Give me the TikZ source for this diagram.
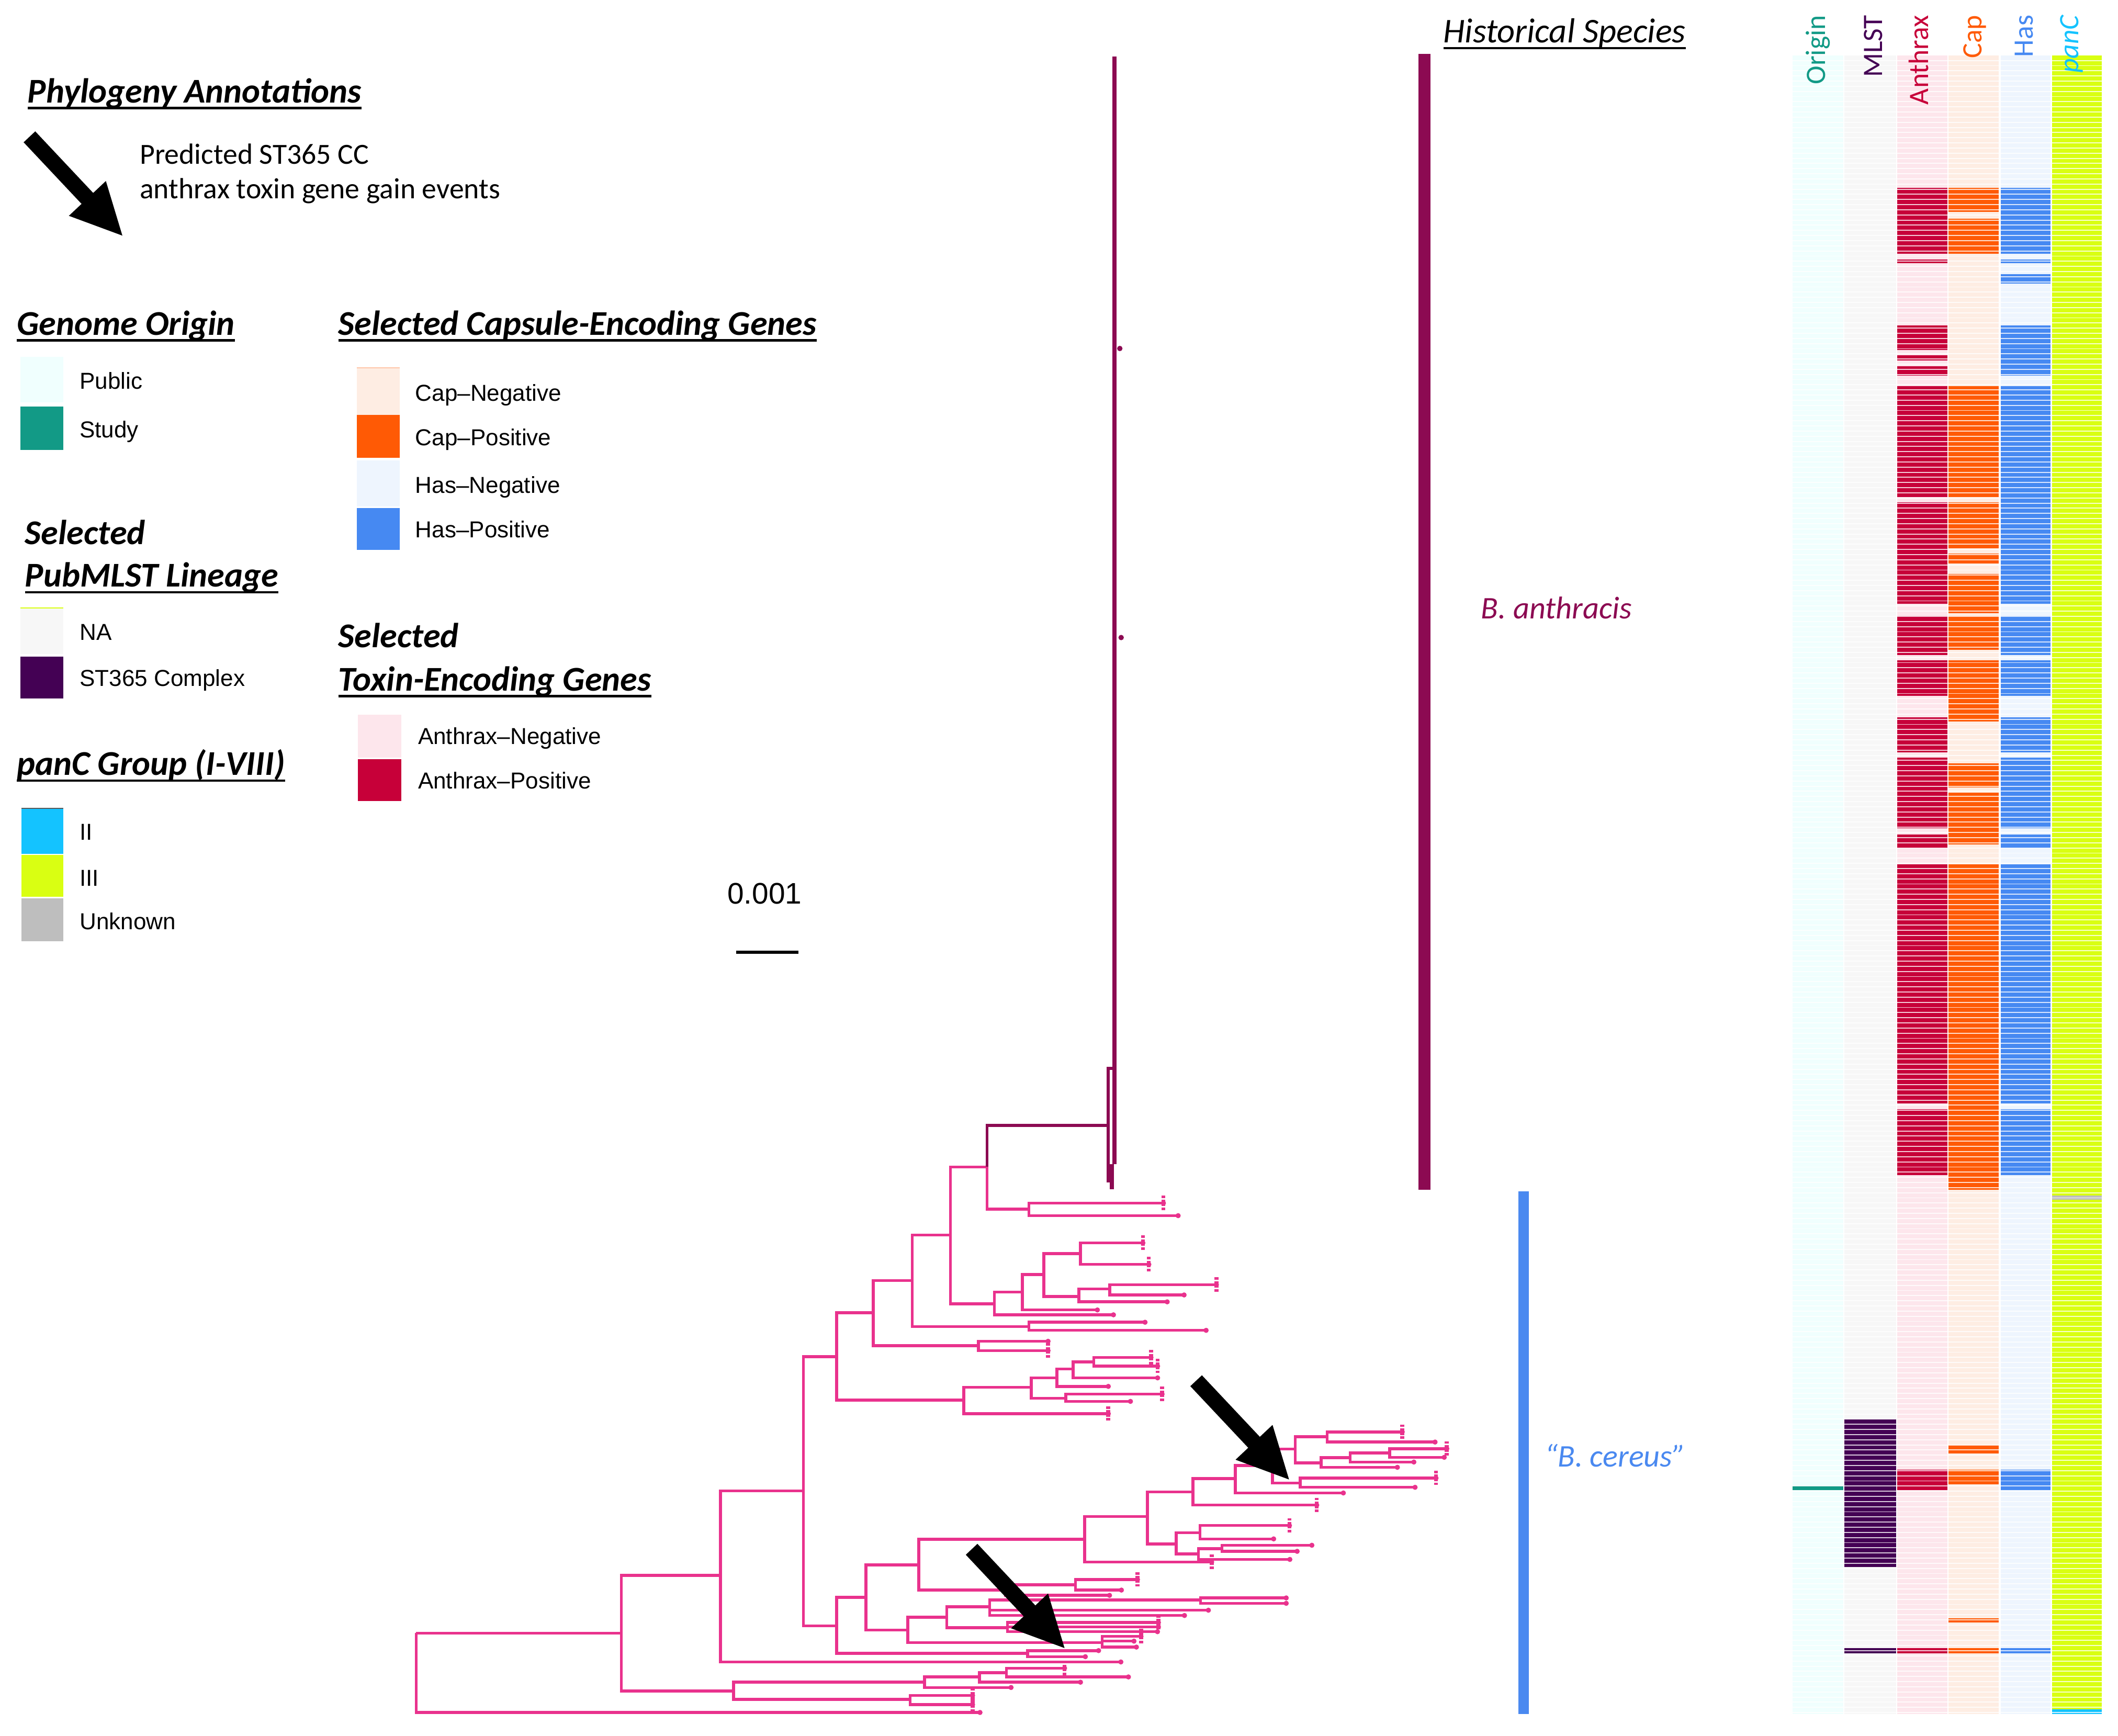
\documentclass[tikz,border=0pt]{standalone}
\usepackage{fontspec}
\setmainfont{Liberation Sans}
\newfontfamily\carlito{Carlito}

\definecolor{cerpink}{RGB}{233,50,141}
\definecolor{antmag}{RGB}{140,10,82}
\definecolor{cerblue}{HTML}{4A89F0}
\definecolor{originpub}{HTML}{F0FFFE}
\definecolor{originstudy}{HTML}{129A86}
\definecolor{mlstna}{HTML}{F7F7F7}
\definecolor{mlstst}{HTML}{440154}
\definecolor{anthneg}{HTML}{FDE6EC}
\definecolor{anthpos}{HTML}{C70039}
\definecolor{capneg}{HTML}{FEEDE3}
\definecolor{cappos}{HTML}{FF5A05}
\definecolor{hasneg}{HTML}{EEF5FE}
\definecolor{haspos}{HTML}{4689F2}
\definecolor{panII}{HTML}{14C3FF}
\definecolor{panIII}{HTML}{D9FF12}
\definecolor{panunk}{HTML}{BEBEBE}

% underlined legend heading
\newcommand\ulhd[1]{\setbox0=\hbox{#1}\rlap{\rule[-3.6pt]{\wd0}{1.3pt}}\box0}

\tikzset{every picture/.style={line width=0.75pt}}
\tikzset{
  hd/.style={font=\carlito\bfseries\itshape\fontsize{19.3}{23}\selectfont, anchor=base west, inner sep=0pt},
  lg/.style={font=\fontsize{12.8}{15}\selectfont, anchor=base west, inner sep=0pt},
  pred/.style={font=\carlito\fontsize{16.2}{19}\selectfont, anchor=base west, inner sep=0pt},
  hist/.style={font=\carlito\itshape\fontsize{19.3}{23}\selectfont, anchor=base west, inner sep=0pt},
  spc/.style={font=\carlito\itshape\fontsize{17.5}{20}\selectfont, anchor=base west, inner sep=0pt},
  scl/.style={font=\fontsize{16.5}{19}\selectfont, anchor=base, inner sep=0pt},
  colhd/.style={font=\carlito\fontsize{15.6}{18}\selectfont, rotate=90, anchor=east, inner sep=0pt},
  cer/.style={draw=cerpink, line width=1.6pt},
  ant/.style={draw=antmag, line width=1.6pt},
  pics/gainarrow/.style={code={
    \fill[black] (0,-5.9) -- (62.6,-5.9) -- (62.6,-18.8) -- (100.4,0) -- (62.6,18.8) -- (62.6,5.9) -- (0,5.9) -- cycle;}}
}

\begin{document}
\begin{tikzpicture}[x=0.75pt,y=0.75pt,yscale=-1,xscale=1]
\useasboundingbox (0,0) rectangle (1568,1285);
\fill[white] (0,0) rectangle (1568,1285);

%Tree nodes: backbone
\coordinate (r) at (308.1,1209.1);
\coordinate (a) at (459.9,1209.1);
\coordinate (b) at (533.3,1166.4);
\coordinate (c) at (543.1,1251.9);
\coordinate (c1) at (684.5,1245.3);
\coordinate (c2) at (673.7,1258.2);
\coordinate (c11) at (725.2,1241.5);
\coordinate (c111) at (745.1,1238.3);
\coordinate (d) at (594.8,1103.8);
\coordinate (e) at (619.3,1203.7);
\coordinate (f) at (619.3,1004.4);
\coordinate (g) at (760.7,1224.1);
\coordinate (h) at (641.0,1182.6);
\coordinate (i) at (672.0,1206.7);
\coordinate (j) at (680.2,1158.5);
\coordinate (k) at (816.0,1216.0);
\coordinate (l) at (700.9,1197.2);
\coordinate (m) at (745.9,1205.1);
\coordinate (n) at (732.6,1189.5);
\coordinate (o) at (888.7,1184.5);
\coordinate (p) at (803.0,1139.5);
\coordinate (q) at (796.2,1173.3);
\coordinate (z) at (744.4,1177.2);
\coordinate (s) at (849.5,1122.7);
\coordinate (t) at (870.8,1143.0);
\coordinate (t1) at (888.3,1134.8);
\coordinate (t2) at (887.2,1150.5);
\coordinate (t21) at (904.7,1146.5);
\coordinate (u) at (883.1,1104.5);
\coordinate (v) at (914.5,1094.7);
\coordinate (vx) at (942.1,1085.0);
\coordinate (w) at (958.8,1072.8);
\coordinate (w1) at (982.5,1063.7);
\coordinate (w2) at (978.0,1083.0);
\coordinate (w21) at (999.6,1079.2);
\coordinate (w211) at (1028.7,1075.6);
\coordinate (vy) at (962.6,1097.9);
%Tree nodes: upper clades
\coordinate (fe) at (646.5,971.9);
\coordinate (fd) at (713.4,1036.6);
\coordinate (fc) at (763.4,1027.0);
\coordinate (fb) at (789.0,1035.1);
\coordinate (fa) at (782.5,1020.1);
\coordinate (faa) at (794.4,1013.5);
\coordinate (fab) at (809.7,1008.3);
\coordinate (ff) at (724.3,996.3);
\coordinate (fh) at (675.3,948.1);
\coordinate (fg) at (761.8,982.2);
\coordinate (fi) at (703.6,914.4);
\coordinate (fj) at (730.8,863.9);
\coordinate (fk) at (761.8,895.2);
\coordinate (fm) at (736.2,965.3);
\coordinate (fn) at (756.9,956.6);
\coordinate (fo) at (772.7,943.6);
\coordinate (fp) at (799.9,928.0);
\coordinate (fq) at (798.8,959.9);
\coordinate (fqa) at (821.6,954.2);
\coordinate (anth) at (820.5,833.2);
\coordinate (antup) at (824.5,791.0);
\coordinate (antlo) at (822.5,874.5);

%Tree branches
\foreach \pa/\ch in {r/a,a/b,a/c,c/c1,c/c2,c1/c11,c11/c111,b/d,d/e,d/f,e/g,e/h,h/i,h/j,i/k,i/l,l/n,l/m,n/o,
  j/p,j/z,z/q,p/s,s/u,s/t,t/t1,t/t2,t2/t21,u/v,v/vx,vx/w,vx/vy,w/w1,w/w2,w2/w21,w21/w211,
  f/fe,f/fd,fd/fc,fc/fb,fc/fa,fa/faa,faa/fab,fe/ff,fe/fh,fh/fg,fh/fi,fi/fj,fi/fm,fj/fk,fm/fn,fn/fo,fo/fp,fo/fq,fq/fqa}
  \draw[cer] (\pa) |- (\ch);

%Tree tips
\foreach \pa/\lx/\ly/\mt [count=\n] in {
  r/725.5/1267.8/0, c1/748.5/1249.3/0, c11/799.9/1245.4/0, c111/788.1/1235.0/1, c111/835.4/1241.5/0,
  c2/720.0/1255.2/1, c2/720.0/1262.0/1, b/829.8/1230.4/0, g/813.3/1222.0/0, g/803.5/1226.5/0,
  k/844.7/1211.5/1, k/839.5/1215.0/0, k/841.3/1219.4/0, n/894.6/1192.1/0, n/876.9/1196.0/0,
  o/952.2/1183.0/0, o/952.2/1187.0/0, m/857.6/1201.2/1, m/857.6/1204.5/0, m/856.9/1208.0/0,
  z/821.4/1181.1/0, q/842.1/1169.4/1, q/830.2/1177.2/0, p/897.0/1156.4/1,
  t1/954.6/1129.4/1, t1/942.9/1139.3/0, t21/971.2/1144.0/0, t21/960.3/1148.5/0, t2/954.9/1154.5/0,
  u/974.8/1114.3/1, v/994.5/1105.3/0, w1/1038.1/1060.1/1, w1/1062.4/1067.6/0, w2/1034.5/1086.3/0,
  w21/1046.7/1082.4/0, w211/1071.1/1072.5/1, w211/1069.2/1078.9/0, vy/1063.1/1094.3/1, vy/1047.6/1101.1/0,
  fd/820.5/1046.6/1, fb/860.3/1032.1/1, fb/836.9/1037.5/0, fa/820.5/1026.4/0, faa/857.0/1020.1/0,
  fab/852.1/1005.0/1, fab/857.0/1011.4/1, ff/775.9/993.0/0, ff/775.9/999.9/1,
  fg/847.7/978.9/0, fg/892.9/984.9/0, fk/861.3/890.7/1, fk/872.2/900.0/0,
  fm/824.3/973.4/0, fn/812.4/969.8/0, fp/846.1/920.2/1, fp/850.5/936.1/1,
  fq/864.1/963.8/0, fqa/900.5/951.2/1, fqa/876.6/958.7/0}
{
  \coordinate (tip\n) at (\lx,\ly);
  \draw[cer] (\pa) |- (tip\n);
  \fill[cerpink] (tip\n) circle (1.9);
  \ifnum\mt=1 \draw[cer, line width=2.2pt, dash pattern=on 1.4pt off 0.8pt] (tip\n) ++(0,-5.5) -- ++(0,11);\fi
}

%B. anthracis clade
\draw[ant] (fj) |- (anth);
\draw[ant] (anth) |- (antup);
\draw[ant] (anth) |- (antlo);
\draw[ant, line width=2.3pt] (825.2,42) -- (825.2,862);
\draw[ant, line width=2.3pt] (823.0,862) -- (823.0,880.5);
\fill[antmag] (829,258) circle (2);
\fill[antmag] (830,472) circle (2);

%Gain event arrows
\pic[rotate=-46.75] (arrhigh) at (885.5,1022.2) {gainarrow};
\pic[rotate=-46.75] (arrlow) at (719.3,1147.0) {gainarrow};

%Historical species bars
\fill[antmag] (1050,40) rectangle (1059,881);
\fill[cerblue] (1124,882) rectangle (1132,1269);
% Text Node
\node[hist] (hdhist) at (1068,31.6) {\ulhd{Historical Species}};
% Text Node
\node[spc, text=antmag] (txtanth) at (1096,458) {B. anthracis};
% Text Node
\node[spc, text=cerblue] (txtcer) at (1143,1086) {“B. cereus”};

%Heat map columns
\fill[originpub] (1327,41) rectangle (1365,1269);
\fill[mlstna] (1365,41) rectangle (1404,1269);
\fill[anthneg] (1404,41) rectangle (1442,1269);
\fill[capneg] (1442,41) rectangle (1480,1269);
\fill[hasneg] (1481,41) rectangle (1518,1269);
\fill[panIII] (1519,41) rectangle (1556,1269);
\foreach \ya/\yb in {139/188,192/195,241/259,263/267,271/278,286/368,372/447,456/485,489/515,531/557,561/613,618/628,640/817,821/870,1088/1103,1220/1224}
  \fill[anthpos] (1404,\ya) rectangle (1442,\yb);
\foreach \ya/\yb in {139/157,162/188,286/368,372/406,410/417,425/454,456/481,489/534,565/583,587/625,640/881,1070/1076,1088/1099,1198/1201,1220/1224}
  \fill[cappos] (1442,\ya) rectangle (1480,\yb);
\foreach \ya/\yb in {139/188,192/195,203/210,241/278,286/447,456/485,489/515,531/557,561/613,618/628,640/817,821/870,1088/1103,1220/1224}
  \fill[haspos] (1481,\ya) rectangle (1518,\yb);
\foreach \ya/\yb in {1051/1160,1220/1224}
  \fill[mlstst] (1365,\ya) rectangle (1404,\yb);
\fill[originstudy] (1327,1100) rectangle (1365,1103);
\fill[panunk] (1519,885) rectangle (1556,888);
\fill[panII] (1519,1265.5) rectangle (1556,1269);
% row separators
\foreach \k in {1,...,322}
  \draw[white, line width=0.55pt, opacity=0.8] (1327,41+3.81*\k) -- (1556,41+3.81*\k);
\foreach \cx/\cw in {1365/0.6,1404/0.6,1442/0.6,1480.5/1.2,1518.5/0.8}
  \draw[white, line width=\cw pt] (\cx,41) -- (\cx,1269);

% Text Node
\node[colhd, text=originstudy] (hdorig) at (1345.8,10.7) {Origin};
\node[colhd, text=mlstst] (hdmlstcol) at (1386.8,10.7) {MLST};
\node[colhd, text=anthpos] (hdanthcol) at (1420.5,10.7) {Anthrax};
\node[colhd, text=cappos] (hdcapcol) at (1461.9,10.7) {Cap};
\node[colhd, text=haspos] (hdhascol) at (1498.5,10.7) {Has};
\node[colhd, text=panII] (hdpanccol) at (1533.5,10.7) {\itshape panC};

%Legend: phylogeny annotations
\node[hd] (hdphylo) at (20,76) {\ulhd{Phylogeny Annotations}};
\pic[rotate=-46.75] (arrlegend) at (21.8,101.3) {gainarrow};
\node[pred] (txtpred) at (103,121.3) {Predicted ST365 CC};
\node[pred] (txtgain) at (103,147) {anthrax toxin gene gain events};

%Legend: genome origin
\node[hd] (hdorigin) at (12,248) {\ulhd{Genome Origin}};
\fill[originpub] (15,264) rectangle (47,298);
\node[lg] (lgpub) at (58.5,288) {Public};
\fill[originstudy] (15,301) rectangle (47,333);
\node[lg] (lgstudy) at (58.5,324) {Study};

%Legend: PubMLST lineage
\node[hd] (hdsela) at (18,403) {Selected};
\node[hd] (hdmlst) at (18,434.5) {\ulhd{PubMLST Lineage}};
\fill[mlstna] (15,450) rectangle (47,484);
\draw[panIII, line width=0.6pt] (15,450) -- (47,450);
\node[lg] (lgna) at (58.5,474) {NA};
\fill[mlstst] (15,486) rectangle (47,517);
\node[lg] (lgst) at (58.5,508) {ST365 Complex};

%Legend: panC group
\node[hd] (hdpanc) at (12,574) {\ulhd{panC Group (I-VIII)}};
\fill[panII] (16,598) rectangle (47,632);
\draw[black!65, line width=0.6pt] (16,598.4) -- (47,598.4);
\node[lg] (lgii) at (58.5,622) {II};
\fill[panIII] (16,633) rectangle (47,664);
\node[lg] (lgiii) at (58.5,656) {III};
\fill[panunk] (16,665) rectangle (47,697);
\node[lg] (lgunk) at (58.5,688) {Unknown};

%Legend: capsule genes
\node[hd] (hdcap) at (250,248) {\ulhd{Selected Capsule-Encoding Genes}};
\fill[capneg] (264,272) rectangle (296,307);
\draw[cappos!35, line width=0.6pt] (264,272.3) -- (296,272.3);
\node[lg] (lgcapn) at (307,297) {Cap–Negative};
\fill[cappos] (264,307) rectangle (296,339);
\node[lg] (lgcapp) at (307,330) {Cap–Positive};
\fill[hasneg] (264,341) rectangle (296,375);
\node[lg] (lghasn) at (307,365) {Has–Negative};
\fill[haspos] (264,376) rectangle (296,407);
\node[lg] (lghasp) at (307,398) {Has–Positive};

%Legend: toxin genes
\node[hd] (hdselb) at (250,479.4) {Selected};
\node[hd] (hdtox) at (250,511.5) {\ulhd{Toxin-Encoding Genes}};
\fill[anthneg] (265,529) rectangle (297,561);
\node[lg] (lganthn) at (309,551) {Anthrax–Negative};
\fill[anthpos] (265,562) rectangle (297,593);
\node[lg] (lganthp) at (309,584) {Anthrax–Positive};

%Scale bar
\node[scl] (txtscale) at (566,669) {0.001};
\coordinate (scll) at (545,705);
\coordinate (sclr) at (591,705);
\draw[line width=1.5pt] (scll) -- (sclr);

\end{tikzpicture}
\end{document}
